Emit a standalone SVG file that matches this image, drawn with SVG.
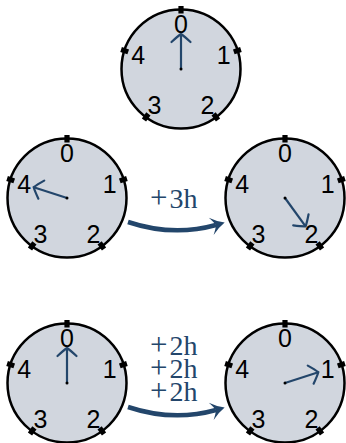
<svg xmlns="http://www.w3.org/2000/svg" xmlns:xlink="http://www.w3.org/1999/xlink" width="346" height="443" viewBox="0 0 346 443">
  <style>
    .face { fill: #d1d6de; stroke: #000; stroke-width: 2.5; }
    .tick { fill: #000; }
    .num { font-family: "Liberation Sans", Arial, sans-serif; font-size: 25px; fill: #000; text-anchor: middle; }
    .hand { stroke: #23466b; stroke-width: 2.2; fill: none; marker-end: url(#to); }
    .dot { fill: #000; }
    .step { stroke: #23466b; stroke-width: 4.5; fill: none; marker-end: url(#stealth); }
    .lbl { font-family: "Liberation Serif", "Times New Roman", serif; font-size: 28px; fill: #23466b; }
    .plus { font-size: 31px; }
  </style>
  <defs>
    <marker id="to" markerUnits="userSpaceOnUse" orient="auto" markerWidth="30" markerHeight="30" refX="0" refY="0" viewBox="-15 -15 30 30" overflow="visible">
      <path d="M -8 -9.5 Q -2 -3 0 0 Q -2 3 -8 9.5" fill="none" stroke="#23466b" stroke-width="2.2" stroke-linecap="round"/>
    </marker>
    <marker id="stealth" markerUnits="userSpaceOnUse" orient="auto" markerWidth="40" markerHeight="40" refX="-9" refY="0" viewBox="-20 -20 40 40" overflow="visible">
      <path d="M 0 0 Q -7 -3 -14 -9 Q -10 -3 -9 0 Q -10 3 -14 9 Q -7 3 0 0 Z" fill="#23466b"/>
    </marker>
    <g id="clockface">
      <circle class="face" cx="0" cy="0" r="59.5"/>
      <rect class="tick" x="-2.6" y="-63" width="5.2" height="7.5" transform="rotate(0)"/>
      <rect class="tick" x="-2.6" y="-63" width="5.2" height="7.5" transform="rotate(72)"/>
      <rect class="tick" x="-2.6" y="-63" width="5.2" height="7.5" transform="rotate(144)"/>
      <rect class="tick" x="-2.6" y="-63" width="5.2" height="7.5" transform="rotate(216)"/>
      <rect class="tick" x="-2.6" y="-63" width="5.2" height="7.5" transform="rotate(288)"/>
    </g>
  </defs>

  <g id="clock-top" transform="translate(181,69)">
    <use xlink:href="#clockface" href="#clockface"/>
    <text class="num" x="0" y="-36">0</text>
    <text class="num" x="42.8" y="-4.9">1</text>
    <text class="num" x="26.5" y="45.4">2</text>
    <text class="num" x="-26.5" y="45.4">3</text>
    <text class="num" x="-42.8" y="-4.9">4</text>
    <line class="hand" x1="0" y1="0" x2="0" y2="-35"/>
    <circle class="dot" cx="0" cy="0" r="1.5"/>
  </g>

  <g id="clock-mid-left" transform="translate(67,198)">
    <use xlink:href="#clockface" href="#clockface"/>
    <text class="num" x="0" y="-36">0</text>
    <text class="num" x="42.8" y="-4.9">1</text>
    <text class="num" x="26.5" y="45.4">2</text>
    <text class="num" x="-26.5" y="45.4">3</text>
    <text class="num" x="-42.8" y="-4.9">4</text>
    <line class="hand" x1="0" y1="0" x2="-33.3" y2="-10.8"/>
    <circle class="dot" cx="0" cy="0" r="1.5"/>
  </g>

  <g id="clock-mid-right" transform="translate(285,198)">
    <use xlink:href="#clockface" href="#clockface"/>
    <text class="num" x="0" y="-36">0</text>
    <text class="num" x="42.8" y="-4.9">1</text>
    <text class="num" x="26.5" y="45.4">2</text>
    <text class="num" x="-26.5" y="45.4">3</text>
    <text class="num" x="-42.8" y="-4.9">4</text>
    <line class="hand" x1="0" y1="0" x2="20.6" y2="28.3"/>
    <circle class="dot" cx="0" cy="0" r="1.5"/>
  </g>

  <g id="clock-bot-left" transform="translate(67,383)">
    <use xlink:href="#clockface" href="#clockface"/>
    <text class="num" x="0" y="-36">0</text>
    <text class="num" x="42.8" y="-4.9">1</text>
    <text class="num" x="26.5" y="45.4">2</text>
    <text class="num" x="-26.5" y="45.4">3</text>
    <text class="num" x="-42.8" y="-4.9">4</text>
    <line class="hand" x1="0" y1="0" x2="0" y2="-35"/>
    <circle class="dot" cx="0" cy="0" r="1.5"/>
  </g>

  <g id="clock-bot-right" transform="translate(285,383)">
    <use xlink:href="#clockface" href="#clockface"/>
    <text class="num" x="0" y="-36">0</text>
    <text class="num" x="42.8" y="-4.9">1</text>
    <text class="num" x="26.5" y="45.4">2</text>
    <text class="num" x="-26.5" y="45.4">3</text>
    <text class="num" x="-42.8" y="-4.9">4</text>
    <line class="hand" x1="0" y1="0" x2="33.3" y2="-10.8"/>
    <circle class="dot" cx="0" cy="0" r="1.5"/>
  </g>

  <g id="connectors">
    <path class="step" d="M 128 222 Q 173 237 216 225"/>
    <text class="lbl" x="150" y="207.5"><tspan class="plus">+</tspan><tspan x="169.5">3h</tspan></text>
    <path class="step" d="M 128 407 Q 173 422 216 410"/>
    <text class="lbl" x="150" y="354.5"><tspan class="plus">+</tspan><tspan x="169.5">2h</tspan></text>
    <text class="lbl" x="150" y="377.5"><tspan class="plus">+</tspan><tspan x="169.5">2h</tspan></text>
    <text class="lbl" x="150" y="400.5"><tspan class="plus">+</tspan><tspan x="169.5">2h</tspan></text>
  </g>
</svg>
